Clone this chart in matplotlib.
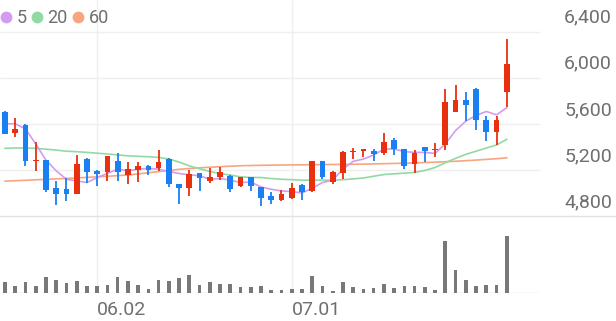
import numpy as np
import matplotlib
matplotlib.use('Agg')
import matplotlib.pyplot as plt
from matplotlib.lines import Line2D

plt.rcParams['font.family'] = ['Roboto', 'DejaVu Sans']

# ==============================================================================
#  DATA (daily candles)
# ==============================================================================

OPEN  = [5700, 5520, 5590, 5275, 5285, 5040, 5035, 4990, 5295, 5190,
         5185, 5280, 5155, 5200, 5235, 5215, 5295, 5075, 5045, 5170,
         5100, 5135, 5150, 5060, 5135, 5050, 4975, 4935, 4960, 5070,
         5015, 5275, 5095, 5170, 5355, 5365, 5360, 5345, 5460, 5380,
         5250, 5395, 5370, 5420, 5700, 5805, 5905, 5635, 5525, 5880]
HIGH  = [5710, 5650, 5595, 5445, 5290, 5105, 5130, 5325, 5300, 5195,
         5320, 5350, 5270, 5270, 5240, 5375, 5300, 5080, 5200, 5175,
         5220, 5225, 5155, 5135, 5140, 5055, 5005, 5025, 5090, 5075,
         5280, 5280, 5190, 5360, 5390, 5385, 5385, 5520, 5475, 5385,
         5370, 5400, 5430, 5905, 5940, 5880, 5910, 5665, 5670, 6335]
LOW   = [5510, 5485, 5230, 5190, 5005, 4895, 4930, 4990, 5090, 5060,
         5105, 5105, 5080, 5095, 5155, 5190, 5050, 4900, 4975, 5015,
         5090, 5110, 5005, 5055, 5020, 4885, 4900, 4930, 4950, 4935,
         5010, 5120, 5080, 5125, 5295, 5315, 5275, 5330, 5325, 5205,
         5175, 5265, 5315, 5370, 5700, 5625, 5550, 5455, 5415, 5745]
CLOSE = [5515, 5555, 5280, 5285, 5025, 4995, 4990, 5255, 5180, 5165,
         5320, 5185, 5205, 5235, 5200, 5265, 5080, 5045, 5165, 5130,
         5140, 5185, 5030, 5135, 5060, 4960, 4935, 4995, 5040, 5005,
         5275, 5140, 5185, 5355, 5365, 5375, 5340, 5445, 5380, 5235,
         5350, 5360, 5385, 5790, 5805, 5760, 5630, 5525, 5635, 6120]

MA5  = [5600, 5600, 5556, 5425, 5285, 5192, 5119, 5105, 5090, 5134,
        5169, 5207, 5192, 5207, 5213, 5207, 5186, 5169, 5157, 5149,
        5119, 5125, 5111, 5090, 5095, 5052, 5032, 5017, 5012, 5000,
        5041, 5090, 5111, 5207, 5274, 5294, 5329, 5381, 5381, 5358,
        5352, 5352, 5343, 5425, 5541, 5623, 5672, 5707, 5678, 5739]
MA20 = [5387, 5390, 5390, 5387, 5380, 5372, 5362, 5358, 5352, 5345,
        5338, 5330, 5322, 5318, 5314, 5309, 5294, 5268, 5235, 5210,
        5186, 5168, 5155, 5140, 5134, 5134, 5125, 5119, 5115, 5111,
        5111, 5111, 5111, 5115, 5122, 5130, 5145, 5160, 5166, 5172,
        5178, 5195, 5221, 5262, 5300, 5335, 5362, 5390, 5416, 5465]
MA60 = [5102, 5106, 5110, 5114, 5118, 5122, 5126, 5130, 5135, 5140,
        5145, 5150, 5156, 5165, 5175, 5185, 5195, 5205, 5212, 5218,
        5223, 5228, 5232, 5236, 5238, 5240, 5241, 5242, 5243, 5244,
        5245, 5246, 5247, 5248, 5249, 5250, 5252, 5254, 5256, 5258,
        5261, 5264, 5267, 5271, 5275, 5280, 5285, 5291, 5297, 5305]

# volume, thousand shares
VOLUME = [32, 22, 33, 22, 48, 40, 30, 37, 22, 22, 25, 48, 35, 25, 12,
          38, 35, 45, 55, 25, 32, 28, 28, 18, 18, 20, 10, 10, 13, 13,
          50, 20, 7, 32, 18, 13, 15, 28, 15, 20, 22, 17, 10, 155, 70,
          40, 22, 25, 25, 172]

PRICE_TICKS = [4800, 5200, 5600, 6000, 6400]
DATE_TICKS  = [9, 28]
DATE_LABELS = ['06.02', '07.01']
MA_LABELS   = ['5', '20', '60']

# ==============================================================================
#  STYLE
# ==============================================================================

UP, DOWN  = '#e8300f', '#1a7ff2'
MA_COLORS = ['#d39cf0', '#93d9a4', '#f7a680']
GRID      = '#efefef'
TEXT      = '#6f6f6f'
XMIN, XMAX = -0.49, 59.67   # full figure width, 10.24 px per day
XEND = 52.2                 # right end of plotting area

fig = plt.figure(figsize=(6.16, 3.21), dpi=100)
ax  = fig.add_axes([0, 0.3271, 1, 0.6729])
axv = fig.add_axes([0, 0.0872, 1, 0.2399])

x = np.arange(len(CLOSE))
o, h, l, c = map(np.array, (OPEN, HIGH, LOW, CLOSE))
col = np.where(c >= o, UP, DOWN)

# ---- price panel ----
ax.set_xlim(XMIN, XMAX)
ax.set_ylim(4800, 6674)
ax.axis('off')
ax.hlines(PRICE_TICKS[1:], XMIN, XEND, color=GRID, lw=1, zorder=0)
ax.vlines(DATE_TICKS, 4800, 6674, color=GRID, lw=1, zorder=0)

for ma, cc in zip([MA60, MA20, MA5], MA_COLORS[::-1]):
    ax.plot(x, ma, color=cc, lw=1.2, zorder=1)

ax.vlines(x, l, h, color=col, lw=1.3, zorder=2)
body = np.maximum(np.abs(c - o), 12)
ax.bar(x, body, bottom=np.minimum(o, c), width=0.56, color=col, zorder=3)

for v in PRICE_TICKS:
    ax.annotate(f'{v:,}', xy=(1, v), xycoords=('axes fraction', 'data'),
                xytext=(-3, 10), textcoords='offset points',
                ha='right', va='center', fontsize=14, color=TEXT)

# separator between panels
fig.add_artist(Line2D([0, 1], [0.3271, 0.3271], color='#e2e2e2', lw=1))

handles = [Line2D([], [], marker='o', ls='none', color=cc, markersize=7.5)
           for cc in MA_COLORS]
leg = ax.legend(handles, MA_LABELS, loc='upper left', bbox_to_anchor=(-0.02, 1.015),
                ncol=3, frameon=False, fontsize=13, handlelength=0.6,
                handletextpad=0.3, columnspacing=0.25, borderpad=0.2)
for t in leg.get_texts():
    t.set_color(TEXT)

# ---- volume panel ----
axv.set_xlim(XMIN, XMAX)
axv.set_ylim(0, 231)
for s in axv.spines.values():
    s.set_visible(False)
axv.set_yticks([])
axv.vlines(DATE_TICKS, 0, 231, color=GRID, lw=1, zorder=0)
axv.hlines(0, XMIN, XEND, color='#dcdcdc', lw=1, zorder=1)
axv.bar(x, VOLUME, width=0.36, color='#787878', zorder=2)
axv.set_xticks(DATE_TICKS)
axv.set_xticklabels(DATE_LABELS, ha='left', fontsize=14, color=TEXT)
axv.tick_params(axis='x', length=0, pad=6)

fig.savefig('out.png', dpi=100)
